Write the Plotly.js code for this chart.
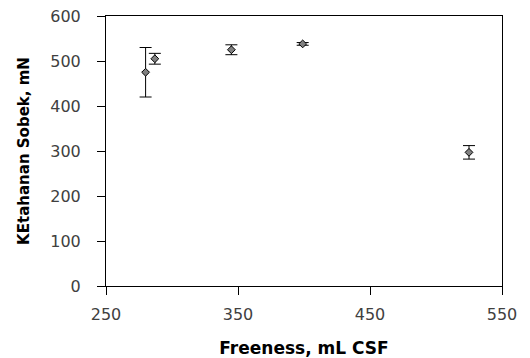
<!DOCTYPE html>
<html>
<head>
<meta charset="utf-8">
<script src="https://cdn.plot.ly/plotly-3.0.1.min.js"></script>
<style>html,body{margin:0;padding:0;background:#fff;}#chart{width:530px;height:358px;}</style>
</head>
<body>
<div id="chart"></div>
<script>
var freeness = [280, 287, 345, 399, 525];
var strength = [475, 505, 525, 538, 297];
var errorVals = [55, 12, 11, 3, 15];
var xTicks = [250, 350, 450, 550];
var yTicks = [0, 100, 200, 300, 400, 500, 600];

var trace = {
  x: freeness,
  y: strength,
  mode: 'markers',
  type: 'scatter',
  marker: {symbol: 'diamond', size: 6, color: '#808080', line: {color: '#000', width: 1}},
  error_y: {type: 'data', array: errorVals, visible: true, color: '#000', thickness: 1, width: 6},
  showlegend: false
};

var layout = {
  width: 530, height: 358,
  margin: {l: 106, r: 28, t: 16, b: 72},
  paper_bgcolor: '#fff', plot_bgcolor: '#fff',
  font: {family: 'DejaVu Sans', size: 16, color: '#404040'},
  xaxis: {
    range: [250, 550], tickvals: xTicks, ticktext: xTicks.map(String),
    showgrid: false, zeroline: false, showline: true, mirror: true,
    linecolor: '#000', linewidth: 1, ticks: 'outside', ticklen: 8, tickcolor: '#000',
    ticklabelstandoff: 6,
    tickfont: {family: 'DejaVu Sans', size: 16, color: '#404040'},
    title: {text: 'Freeness, mL CSF', font: {family: 'DejaVu Sans', size: 17, color: '#000', weight: 'bold'}, standoff: 19}
  },
  yaxis: {
    range: [0, 600], tickvals: yTicks, ticktext: yTicks.map(String),
    showgrid: false, zeroline: false, showline: true, mirror: true,
    linecolor: '#000', linewidth: 1, ticks: 'outside', ticklen: 8, tickcolor: '#000',
    ticklabelstandoff: 13,
    tickfont: {family: 'DejaVu Sans', size: 16, color: '#404040'},
    title: {text: 'KEtahanan Sobek, mN', font: {family: 'DejaVu Sans', size: 15, color: '#000', weight: 'bold'}, standoff: 17}
  }
};

Plotly.newPlot('chart', [trace], layout, {displayModeBar: false, staticPlot: true});
</script>
</body>
</html>
